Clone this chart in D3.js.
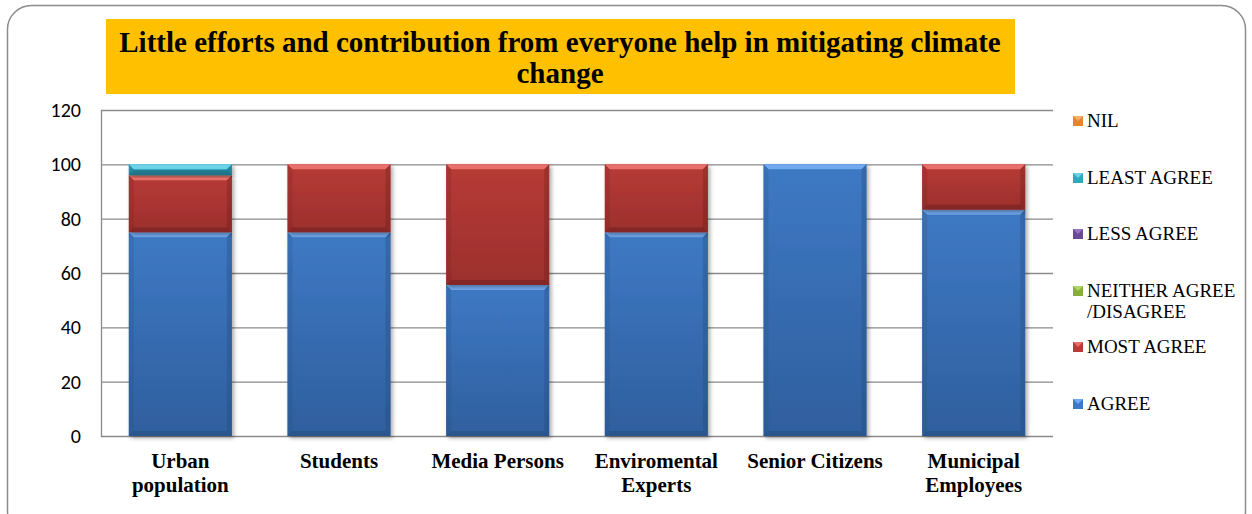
<!DOCTYPE html>
<html>
<head>
<meta charset="utf-8">
<script src="https://cdn.jsdelivr.net/npm/d3@7/dist/d3.min.js"></script>
<style>
  html, body { margin: 0; padding: 0; background: #fff; }
  svg { display: block; }
  .serif { font-family: "Liberation Serif", Tinos, "Times New Roman", Times, "DejaVu Serif", serif; }
  .sans { font-family: Carlito, "Open Sans", "Liberation Sans", sans-serif; }
</style>
</head>
<body>
<svg id="chart" width="1252" height="514"></svg>
<script>
// Survey groups and responses (percent)
const categories = [["Urban", "population"], ["Students"], ["Media Persons"], ["Enviromental", "Experts"], ["Senior Citizens"], ["Municipal", "Employees"]];
const seriesNames = ["AGREE", "MOST AGREE", "NEITHER AGREE /DISAGREE", "LESS AGREE", "LEAST AGREE", "NIL"];
const agree        = [75, 75, 55.6, 75, 100, 83.3];
const mostAgree    = [21, 25, 44.4, 25, 0, 16.7];
const neither      = [0, 0, 0, 0, 0, 0];
const lessAgree    = [0, 0, 0, 0, 0, 0];
const leastAgree   = [4, 0, 0, 0, 0, 0];
const nil          = [0, 0, 0, 0, 0, 0];
const yTicks = [0, 20, 40, 60, 80, 100, 120];
const titleLines = ["Little efforts and contribution from everyone help in mitigating climate", "change"];

const colors = {
  "AGREE":      { top: "#3E79C4", bottom: "#2F5F9E", light: "#72A8EE", dark: "#244a7c" },
  "MOST AGREE": { top: "#B73B37", bottom: "#9C2F2C", light: "#E8706A", dark: "#6e1f1d" },
  "NEITHER AGREE /DISAGREE": { top: "#88AE40", bottom: "#6E9130", light: "#B0D66A", dark: "#4f6a22" },
  "LESS AGREE": { top: "#6A4A96", bottom: "#553A7C", light: "#9575C2", dark: "#3b2858" },
  "LEAST AGREE":{ top: "#33A6C0", bottom: "#24869C", light: "#6AD3E8", dark: "#186172" },
  "NIL":        { top: "#E28430", bottom: "#C46E20", light: "#F7AE62", dark: "#8c4f16" }
};

const seriesValues = [agree, mostAgree, neither, lessAgree, leastAgree, nil];
const rows = categories.map((c, i) => {
  const r = { key: i };
  seriesNames.forEach((s, j) => r[s] = seriesValues[j][i]);
  return r;
});
const stacked = d3.stack().keys(seriesNames)(rows);

const svg = d3.select("#chart");

// outer rounded frame
svg.append("rect").attr("x", 7.5).attr("y", 5.5).attr("width", 1238).attr("height", 530)
  .attr("rx", 24).attr("fill", "#fff").attr("stroke", "#8c8c8c").attr("stroke-width", 1.5);

const plot = { left: 101, right: 1053, top: 110, bottom: 436 };
const x = d3.scaleBand().domain(d3.range(categories.length)).range([plot.left, plot.right]).paddingInner(0.35).paddingOuter(0.175);
const y = d3.scaleLinear().domain([0, 120]).range([plot.bottom, plot.top]);

const defs = svg.append("defs");
const shadow = defs.append("filter").attr("id", "shadow").attr("x", "-10%").attr("y", "-10%").attr("width", "130%").attr("height", "130%");
shadow.append("feGaussianBlur").attr("in", "SourceAlpha").attr("stdDeviation", 2);
shadow.append("feOffset").attr("dx", 1.5).attr("dy", 2).attr("result", "b");
shadow.append("feComponentTransfer").append("feFuncA").attr("type", "linear").attr("slope", 0.35);
const fm = shadow.append("feMerge");
fm.append("feMergeNode");
fm.append("feMergeNode").attr("in", "SourceGraphic");

seriesNames.forEach((s, j) => {
  const c = colors[s];
  const g = defs.append("linearGradient").attr("id", "grad" + j).attr("x1", 0).attr("y1", 0).attr("x2", 0).attr("y2", 1);
  g.append("stop").attr("offset", "0%").attr("stop-color", c.top);
  g.append("stop").attr("offset", "100%").attr("stop-color", c.bottom);
});

// gridlines
svg.append("g").selectAll("line").data(yTicks).join("line")
  .attr("x1", plot.left).attr("x2", plot.right)
  .attr("y1", d => y(d) + 0.5).attr("y2", d => y(d) + 0.5)
  .attr("stroke", "#8a8a8a").attr("stroke-width", 1.3);
svg.append("line").attr("x1", plot.left + 0.5).attr("x2", plot.left + 0.5)
  .attr("y1", plot.top).attr("y2", plot.bottom + 1).attr("stroke", "#8a8a8a").attr("stroke-width", 1.3);

// y axis labels
const yAxis = d3.axisLeft(y).tickValues(yTicks).tickSize(0).tickPadding(0);
const ya = svg.append("g").attr("transform", `translate(${plot.left - 20},0)`).call(yAxis);
ya.select(".domain").remove();
ya.attr("font-family", null).attr("font-size", null).attr("class", "sans");
ya.selectAll("text").attr("font-size", 20).attr("fill", "#000");

// bars with bevelled edges
const bevel = 5;
const barsG = svg.append("g");
stacked.forEach((layer, j) => {
  const c = colors[layer.key];
  layer.forEach((seg, i) => {
    const v = seg[1] - seg[0];
    if (v <= 0) return;
    const x0 = x(i), x1 = x(i) + x.bandwidth();
    const yt = y(seg[1]), yb = y(seg[0]);
    const b = Math.min(bevel, (yb - yt) / 2);
    const g = barsG.append("g").attr("filter", "url(#shadow)");
    g.append("rect").attr("x", x0).attr("y", yt).attr("width", x1 - x0).attr("height", yb - yt).attr("fill", `url(#grad${j})`);
    // top bevel
    g.append("polygon").attr("points", [[x0, yt], [x1, yt], [x1 - b, yt + b], [x0 + b, yt + b]].join(" ")).attr("fill", c.light);
    // right bevel
    g.append("polygon").attr("points", [[x1, yt], [x1, yb], [x1 - b, yb - b], [x1 - b, yt + b]].join(" ")).attr("fill", c.dark).attr("opacity", 0.35);
    // left bevel
    g.append("polygon").attr("points", [[x0, yt], [x0 + b, yt + b], [x0 + b, yb - b], [x0, yb]].join(" ")).attr("fill", c.dark).attr("opacity", 0.2);
    // bottom bevel
    g.append("polygon").attr("points", [[x0, yb], [x1, yb], [x1 - b, yb - b], [x0 + b, yb - b]].join(" ")).attr("fill", c.dark).attr("opacity", 0.5);
  });
});

// category labels
const xl = svg.append("g");
categories.forEach((lines, i) => {
  const t = xl.append("text").attr("class", "serif").attr("x", x(i) + x.bandwidth() / 2).attr("y", 468)
    .attr("text-anchor", "middle").attr("font-weight", "bold").attr("font-size", 21).attr("fill", "#000");
  lines.forEach((l, k) => t.append("tspan").attr("x", x(i) + x.bandwidth() / 2).attr("dy", k ? 24 : 0).text(l));
});

// title banner
svg.append("rect").attr("x", 106).attr("y", 19).attr("width", 909).attr("height", 75).attr("fill", "#FFC000");
const tt = svg.append("text").attr("class", "serif").attr("text-anchor", "middle")
  .attr("font-weight", "bold").attr("font-size", 29).attr("fill", "#000");
titleLines.forEach((l, k) => tt.append("tspan").attr("x", 560).attr("y", 52 + k * 31).text(l));

// legend (top to bottom: NIL ... AGREE)
const legendItems = seriesNames.slice().reverse();
const legendY = [121, 178, 234, 291, 347, 404];
const lg = svg.append("g");
legendItems.forEach((s, i) => {
  const c = colors[s];
  const yy = legendY[i];
  lg.append("rect").attr("x", 1073).attr("y", yy - 5).attr("width", 10).attr("height", 10).attr("fill", c.top);
  lg.append("polygon").attr("points", [[1073, yy - 5], [1083, yy - 5], [1078, yy]].join(" ")).attr("fill", c.light);
  const lines = s === "NEITHER AGREE /DISAGREE" ? ["NEITHER AGREE", "/DISAGREE"] : [s];
  const t = lg.append("text").attr("class", "serif").attr("font-size", 19).attr("fill", "#000");
  lines.forEach((l, k) => t.append("tspan").attr("x", 1087).attr("y", yy + 6 + k * 21).text(l));
});
</script>
</body>
</html>
